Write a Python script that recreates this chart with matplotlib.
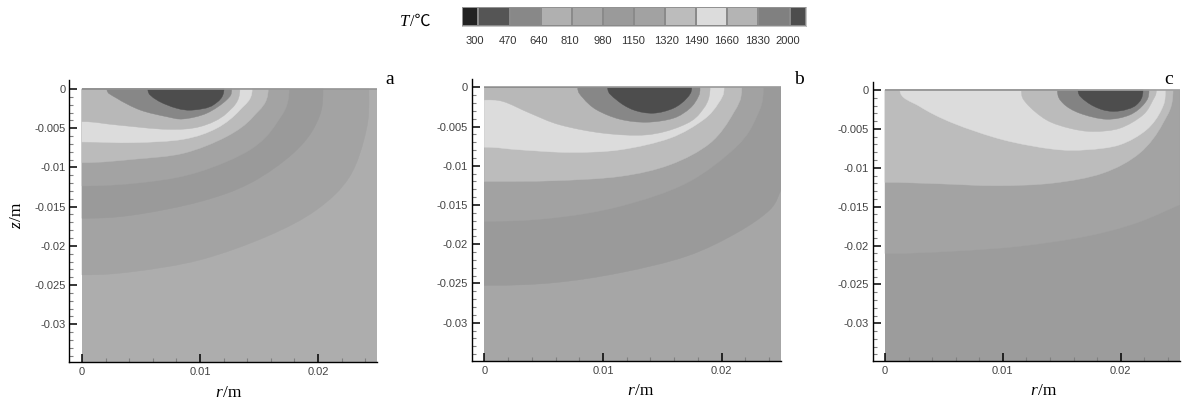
import matplotlib
matplotlib.use("Agg")
import matplotlib.pyplot as plt
import numpy as np
from matplotlib.colors import ListedColormap, BoundaryNorm
from matplotlib.patches import PathPatch
from matplotlib.path import Path

W, H = 1203, 403
SERIF = ["Liberation Serif", "Noto Sans CJK SC", "DejaVu Sans"]
SANS = ["Liberation Sans", "DejaVu Sans"]

# ---- colour scale ----
level_edges = [212, 300, 470, 640, 810, 980, 1150, 1320, 1490, 1660, 1830, 2000, 2088]
level_colors = ["#222222", "#555555", "#888888", "#b0b0b0", "#a6a6a6", "#9a9a9a",
                "#a2a2a2", "#bcbcbc", "#dcdcdc", "#b4b4b4", "#808080", "#4d4d4d"]
bar_labels = ["300", "470", "640", "810", "980", "1150", "1320", "1490", "1660", "1830", "2000"]
bar_label_pos = [278, 464, 629, 797, 980, 1144, 1327, 1492, 1656, 1826, 1991]

R_MAX = 0.025
Z_MIN = -0.0348

# ---- temperature isotherm boundaries: (band colour, r values, z values) ----
a_base = "#adadad"
a_bands = [
    ("#a3a3a3", [0, .00437, .0100, .01563, .01986, .02268, .02409, .02431],
                [-.0237, -.02328, -.02179, -.01882, -.01542, -.01117, -.00522, 0]),
    ("#9a9a9a", [0, .00437, .0100, .01423, .01789, .01986, .02042],
                [-.01648, -.01606, -.01436, -.01202, -.0082, -.00438, 0]),
    ("#a3a3a3", [0, .00577, .0100, .01423, .01648, .01755],
                [-.01236, -.01181, -.01053, -.00777, -.00438, 0]),
    ("#bbbbbb", [0, .00437, .00859, .01225, .01451, .01578],
                [-.00939, -.00896, -.0082, -.00607, -.00353, 0]),
    ("#dcdcdc", [0, .00437, .00859, .01141, .01338, .01442],
                [-.00675, -.00684, -.00641, -.00501, -.00268, 0]),
    ("#b8b8b8", [0, .00296, .00718, .0100, .01225, .01338],
                [-.00416, -.00459, -.00514, -.0048, -.0031, 0]),
    ("#878787", [.00211, .00296, .00493, .00718, .00859, .01056, .01225, .01268],
                [0, -.00119, -.00268, -.00353, -.00382, -.0031, -.0014, 0]),
    ("#4d4d4d", [.00558, .00634, .00803, .00944, .01113, .01203],
                [0, -.0014, -.00246, -.00268, -.00204, 0]),
]

b_base = "#a6a6a6"
b_bands = [
    ("#9a9a9a", [0, .00581, .01143, .01705, .02126, .02407, .0250],
                [-.02525, -.02491, -.02364, -.02152, -.01856, -.01559, -.01305]),
    ("#a2a2a2", [0, .00581, .01143, .01705, .02126, .02295, .02351],
                [-.01708, -.01665, -.01517, -.0122, -.00754, -.00373, 0]),
    ("#bcbcbc", [0, .00581, .01143, .01565, .01902, .02098, .02169],
                [-.01199, -.01191, -.01136, -.00987, -.00712, -.0033, 0]),
    ("#dcdcdc", [0, .00301, .00722, .01143, .01565, .01845, .01972, .0202],
                [-.00763, -.00797, -.0083, -.00797, -.00648, -.00415, -.00203, 0]),
    ("#b8b8b8", [0, .0016, .00385, .00638, .01003, .01368, .01649, .01817, .01902],
                [-.00161, -.00182, -.0033, -.00479, -.00585, -.00606, -.005, -.0033, 0]),
    ("#878787", [.00787, .00834, .00947, .01143, .01368, .01593, .01733, .01803, .01817],
                [0, -.0014, -.00288, -.00407, -.00445, -.00394, -.00267, -.00119, 0]),
    ("#4d4d4d", [.01039, .01115, .01256, .01424, .01593, .01705, .01747],
                [0, -.00161, -.00288, -.0033, -.00267, -.0014, 0]),
]

c_base = "#9c9c9c"
c_bands = [
    ("#a3a3a3", [0, .00579, .01144, .01709, .02133, .0250],
                [-.02103, -.02073, -.02009, -.01881, -.0171, -.01475]),
    ("#bcbcbc", [0, .00438, .00946, .01427, .0185, .02161, .02359, .02444],
                [-.01188, -.01205, -.01231, -.01197, -.01069, -.00812, -.00427, 0]),
    ("#dcdcdc", [.00127, .00297, .00579, .01003, .01427, .01709, .01992, .02218, .02345, .02379],
                [0, -.00214, -.00427, -.00641, -.00761, -.00769, -.00705, -.00513, -.00256, 0]),
    ("#bbbbbb", [.01158, .012, .0137, .01568, .01766, .01992, .02189, .02274, .02302],
                [0, -.00171, -.00385, -.00492, -.00534, -.00492, -.00321, -.00128, 0]),
    ("#838383", [.01463, .01511, .01653, .01879, .02076, .02203, .0224],
                [0, -.00171, -.00299, -.00376, -.00321, -.00171, 0]),
    ("#4d4d4d", [.01638, .01709, .0185, .01992, .02133, .02189],
                [0, -.0015, -.00256, -.00269, -.00192, 0]),
]

r_major = [0, 0.01, 0.02]
r_labels = ["0", "0.01", "0.02"]
r_minor = [0.002, 0.004, 0.006, 0.008, 0.012, 0.014, 0.016, 0.018, 0.022, 0.024]
z_major = [0, -0.005, -0.01, -0.015, -0.02, -0.025, -0.03]
z_labels = ["0", "-0.005", "-0.01", "-0.015", "-0.02", "-0.025", "-0.03"]
z_minor = [-0.001 * i for i in range(1, 35) if i % 5]

plt.rcParams["font.family"] = SANS
fig = plt.figure(figsize=(W / 100, H / 100), dpi=100, facecolor="white")


def px_axes(left, right, top, bottom, **kw):
    return fig.add_axes([left / W, 1 - bottom / H, (right - left) / W, (bottom - top) / H], **kw)


def ftext(x, y, s, **kw):
    fig.text(x / W, 1 - y / H, s, **kw)


def band_patch(r, z, color):
    """Curve through the boundary points, meeting the top edge and the axis square on."""
    pts = np.column_stack([r, z])
    n = len(pts)
    verts, codes = [tuple(pts[0])], [Path.MOVETO]
    for i in range(n - 1):
        prev = pts[i - 1] if i > 0 else pts[i]
        nxt = pts[i + 2] if i + 2 < n else pts[i + 1]
        c1 = pts[i] + (pts[i + 1] - prev) / 6
        c2 = pts[i + 1] - (nxt - pts[i]) / 6
        seg = pts[i + 1] - pts[i]
        if i == 0 and pts[0][1] == 0:
            c1 = pts[0] + np.array([0, seg[1] * 0.55])
        if i == 0 and pts[0][0] == 0:
            c1 = pts[0] + np.array([seg[0] * 0.4, 0])
        if i == n - 2 and pts[-1][1] == 0:
            c2 = pts[-1] + np.array([0, -seg[1] * 0.55])
        verts += [tuple(c1), tuple(c2), tuple(pts[i + 1])]
        codes += [Path.CURVE4] * 3
    if z[-1] != 0:
        verts.append((R_MAX, 0))
        codes.append(Path.LINETO)
    verts += [(0, 0), tuple(pts[0]), tuple(pts[0])]
    codes += [Path.LINETO, Path.LINETO, Path.CLOSEPOLY]
    return PathPatch(Path(verts, codes), facecolor=color, edgecolor=color, lw=0.3)


def panel(spine_left, x0, x02, top_spine, y0, y03, bottom, base, bands, tag, tag_xy, rlab_xy, strip):
    sx = 0.02 / (x02 - x0)
    sy = 0.03 / (y03 - y0)
    right = x0 + R_MAX / sx
    ax = px_axes(spine_left, right, top_spine, bottom)
    ax.set_xlim((spine_left - x0) * sx, R_MAX)
    ax.set_ylim(-(bottom - y0) * sy, (y0 - top_spine) * sy)
    ax.fill([0, R_MAX, R_MAX, 0], [Z_MIN - 1, Z_MIN - 1, 0, 0], color=base, lw=0, zorder=0)
    for i, (col, r, z) in enumerate(bands):
        p = band_patch(r, z, col)
        p.set_zorder(1 + i * 0.01)
        ax.add_patch(p)
    ax.plot([0, R_MAX], [0, 0], color=strip, lw=1.2, zorder=2, solid_capstyle="butt")
    for s in ("top", "right"):
        ax.spines[s].set_visible(False)
    for s in ("left", "bottom"):
        ax.spines[s].set_linewidth(1.0)
        ax.spines[s].set_zorder(5)
    ax.set_xticks(r_major, r_labels)
    ax.set_xticks(r_minor, minor=True)
    ax.set_yticks(z_major, z_labels)
    ax.set_yticks(z_minor, minor=True)
    ax.tick_params(axis="both", which="major", direction="in", length=5.5, width=1.1,
                   labelsize=8.0, labelcolor="#444444", color="black", zorder=6)
    ax.tick_params(axis="both", which="minor", direction="in", length=3, width=0.8, color="#808080", zorder=6)
    ax.tick_params(axis="x", which="major", pad=3.5)
    ax.tick_params(axis="y", which="major", pad=2.5)
    ftext(*tag_xy, tag, family=SERIF, fontsize=14, ha="center", va="center")
    ftext(rlab_xy[0] - 7, rlab_xy[1], "r", family=SERIF, style="italic", fontsize=12.5, ha="center", va="center")
    ftext(rlab_xy[0] + 6, rlab_xy[1], "/m", family=SERIF, fontsize=12.5, ha="center", va="center")
    return ax


panel(69, 82, 318, 80, 89, 324.3, 362, a_base, a_bands, "a", (390, 80), (226, 393), "#969696")
panel(471.7, 484.3, 721.7, 79, 87.3, 322.7, 360.7, b_base, b_bands, "b", (799, 80), (638, 391), "#9a9a9a")
panel(872.7, 885, 1120.7, 81.7, 90, 323.3, 360.7, c_base, c_bands, "c", (1169, 80), (1041, 391), "#a0a0a0")

ftext(17, 226, "z", family=SERIF, style="italic", fontsize=12.5, rotation=90, ha="center", va="center")
ftext(17, 212, "/m", family=SERIF, fontsize=12.5, rotation=90, ha="center", va="center")

# ---- colour bar ----
cax = px_axes(462.3, 805.7, 7.3, 26)
cmap = ListedColormap(level_colors)
norm = BoundaryNorm(level_edges, cmap.N)
cax.pcolormesh(level_edges, [0, 1], np.array([[(level_edges[i] + level_edges[i + 1]) / 2
                                               for i in range(12)]]),
               cmap=cmap, norm=norm, edgecolors="#8a8a8a", linewidth=0.3)
cax.set_xlim(level_edges[0], level_edges[-1])
cax.set_yticks([])
cax.set_xticks(bar_label_pos, bar_labels)
cax.tick_params(axis="x", length=0, labelsize=8.0, labelcolor="#333333", pad=7)
for s in cax.spines.values():
    s.set_linewidth(0.4)
    s.set_color("#999999")

ftext(405, 22, "T", family=SERIF, style="italic", fontsize=12, ha="center", va="center")
ftext(420, 22, "/℃", family=SERIF, fontsize=11.5, ha="center", va="center")

fig.savefig("out.png", dpi=100, facecolor="white")
